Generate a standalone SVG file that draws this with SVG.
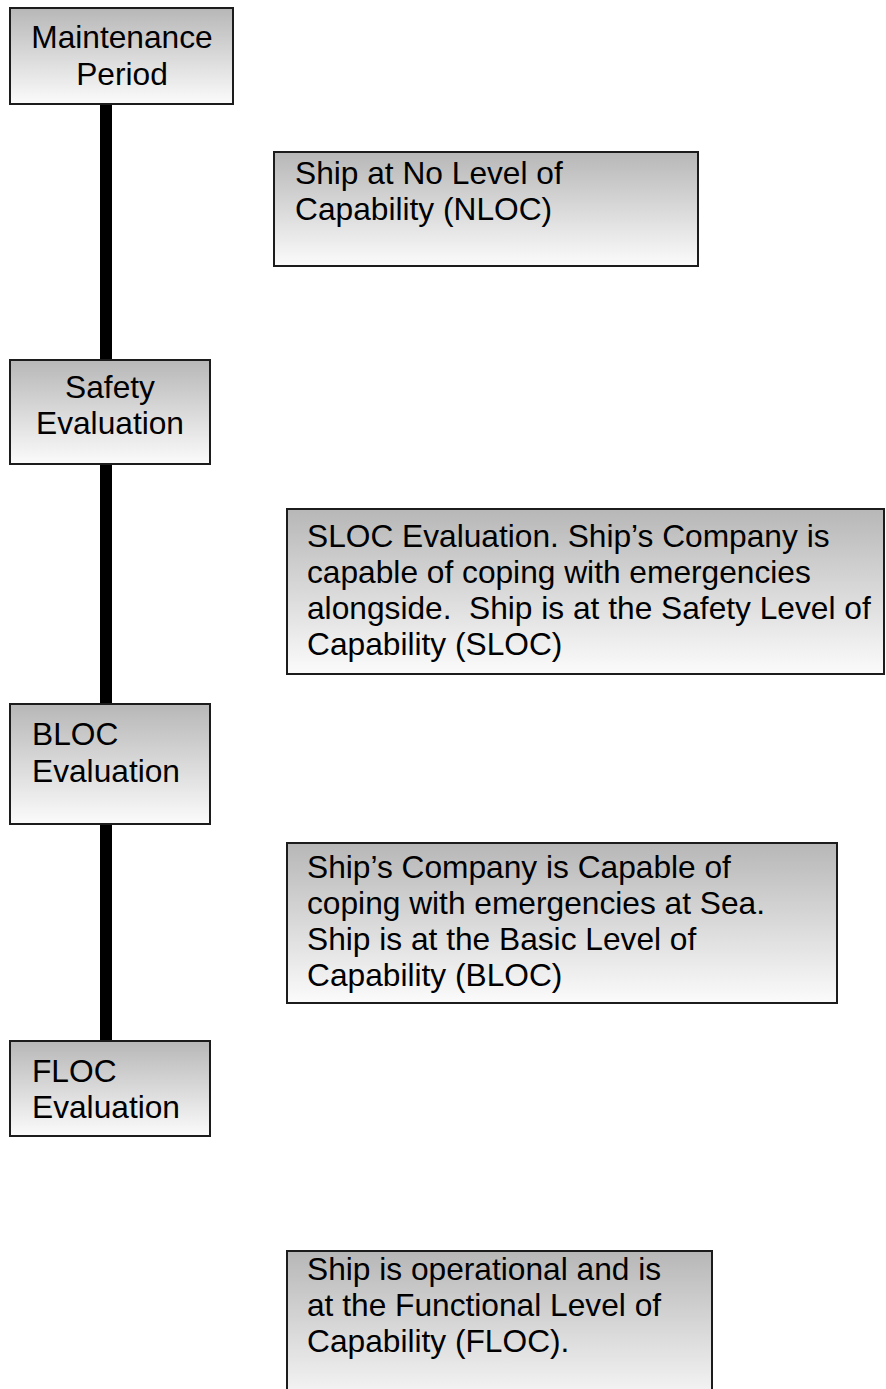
<svg xmlns="http://www.w3.org/2000/svg" width="886" height="1389" viewBox="0 0 886 1389">
  <defs>
    <linearGradient id="boxFill" x1="0" y1="0" x2="0" y2="1">
      <stop offset="0" stop-color="#b7b7b7"/>
      <stop offset="1" stop-color="#fbfbfb"/>
    </linearGradient>
    <style>
      .box { fill: url(#boxFill); stroke: #1c1c1c; stroke-width: 2; }
      .t { font-family: "Liberation Sans", Arial, sans-serif; font-size: 31.7px; fill: #000; }
      .mid { text-anchor: middle; }
      .spine { stroke: #000; stroke-width: 12; fill: none; }
    </style>
  </defs>
  <rect width="886" height="1389" fill="#fff"/>

  <!-- timeline spine running behind the evaluation boxes -->
  <g id="connectors">
    <line class="spine" x1="106" y1="104" x2="106" y2="1041"/>
  </g>

  <g id="maintenance-period">
    <rect class="box" x="10" y="8" width="223" height="96"/>
    <text class="t mid" x="122" y="48">Maintenance</text>
    <text class="t mid" x="122" y="85">Period</text>
  </g>

  <g id="nloc">
    <rect class="box" x="274" y="152" width="424" height="114"/>
    <text class="t" x="295" y="184">Ship at No Level of</text>
    <text class="t" x="295" y="220">Capability (NLOC)</text>
  </g>

  <g id="safety-evaluation">
    <rect class="box" x="10" y="360" width="200" height="104"/>
    <text class="t mid" x="110" y="398">Safety</text>
    <text class="t mid" x="110" y="434">Evaluation</text>
  </g>

  <g id="sloc">
    <rect class="box" x="287" y="509" width="597" height="165"/>
    <text class="t" x="307" y="547">SLOC Evaluation. Ship’s Company is</text>
    <text class="t" x="307" y="583">capable of coping with emergencies</text>
    <text class="t" x="307" y="619" xml:space="preserve">alongside.  Ship is at the Safety Level of</text>
    <text class="t" x="307" y="655">Capability (SLOC)</text>
  </g>

  <g id="bloc-evaluation">
    <rect class="box" x="10" y="704" width="200" height="120"/>
    <text class="t" x="32" y="745">BLOC</text>
    <text class="t" x="32" y="782">Evaluation</text>
  </g>

  <g id="bloc">
    <rect class="box" x="287" y="843" width="550" height="160"/>
    <text class="t" x="307" y="878">Ship’s Company is Capable of</text>
    <text class="t" x="307" y="914">coping with emergencies at Sea.</text>
    <text class="t" x="307" y="950">Ship is at the Basic Level of</text>
    <text class="t" x="307" y="986">Capability (BLOC)</text>
  </g>

  <g id="floc-evaluation">
    <rect class="box" x="10" y="1041" width="200" height="95"/>
    <text class="t" x="32" y="1082">FLOC</text>
    <text class="t" x="32" y="1118">Evaluation</text>
  </g>

  <g id="floc">
    <rect class="box" x="287" y="1251" width="425" height="160"/>
    <text class="t" x="307" y="1280">Ship is operational and is</text>
    <text class="t" x="307" y="1316">at the Functional Level of</text>
    <text class="t" x="307" y="1352">Capability (FLOC).</text>
  </g>
</svg>
